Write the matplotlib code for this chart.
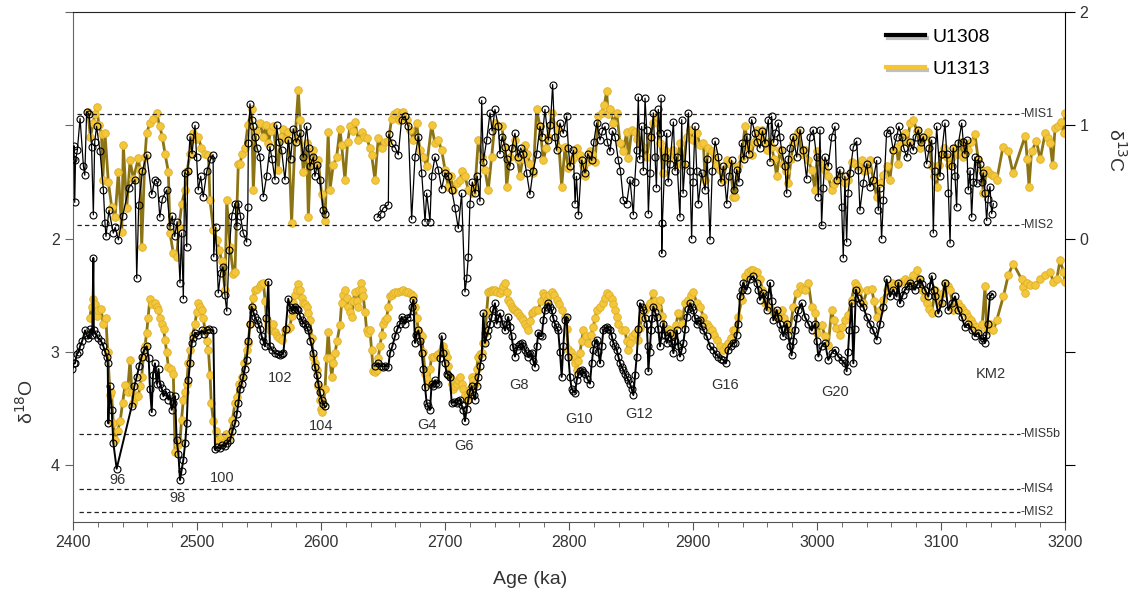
import numpy as np
import matplotlib.pyplot as plt
from matplotlib.lines import Line2D
import matplotlib.patheffects as pe

plt.rcParams['font.family'] = ['Liberation Sans', 'DejaVu Sans']

nan = np.nan

# (age ka, value)
u1308_d13c = [
    (2400.0, 0.70), (2400.8, 0.82), (2401.4, 0.32), (2402.0, 0.69), (2403.5, 0.78), (2405.7, 1.06),
    (2408.4, 0.64), (2409.5, 0.56), (2411.0, 1.12), (2413.0, 1.10), (2415.0, 0.81), (2416.4, 0.21),
    (2417.5, 0.85), (2419.0, 0.99), (2421.8, 0.77), (2424.5, 0.43), (2425.8, 0.14), (2426.6, 0.02),
    (2429.0, 0.25), (2432.5, 0.05), (2434.0, 0.10), (2436.6, -0.01), (2440.0, 0.20), (2445.0, 0.45),
    (2450.0, 0.52), (2451.4, -0.35), (2453.0, 0.30), (2456.0, 0.60), (2459.4, 0.74), (2463.5, 0.39),
    (2466.0, 0.52), (2468.0, 0.50), (2470.0, 0.19), (2472.0, 0.35), (2475.6, 0.43), (2478.2, 0.11),
    (2480.0, 0.20), (2482.0, 0.02), (2484.0, 0.15), (2486.3, -0.39), (2487.5, 0.05), (2489.0, -0.53),
    (2490.0, 0.58), (2491.7, -0.07), (2492.5, 0.60), (2494.4, 0.90), (2496.0, 0.75), (2498.4, 1.00),
    (2499.7, 0.72), (2501.0, 0.43), (2503.0, 0.55), (2505.0, 0.37), (2508.0, 0.60), (2511.0, 0.70),
    (2513.0, 0.74), (2513.5, -0.16), (2515.0, 0.10), (2517.2, -0.48), (2519.0, -0.30), (2521.0, -0.25),
    (2522.5, -0.50), (2524.0, -0.64), (2526.0, -0.10), (2528.0, 0.20), (2530.7, 0.31), (2532.0, 0.11),
    (2533.3, 0.31), (2535.0, 0.20), (2537.3, 0.05), (2540.0, -0.03), (2541.0, 0.28), (2541.4, 0.84),
    (2542.7, 1.19), (2544.0, 1.05), (2545.4, 0.99), (2546.7, 0.90), (2548.5, 0.80), (2550.8, 0.72),
    (2553.5, 0.37), (2556.1, 0.55), (2558.8, 0.81), (2560.5, 0.70), (2562.9, 0.52), (2564.2, 1.00),
    (2566.0, 0.85), (2568.2, 0.78), (2570.9, 0.52), (2573.6, 0.87), (2575.5, 0.70), (2577.6, 0.97),
    (2580.0, 0.85), (2583.0, 0.93), (2585.7, 0.72), (2588.4, 0.99), (2590.0, 0.80), (2591.1, 0.64),
    (2593.8, 0.72), (2595.1, 0.55), (2597.0, 0.65), (2599.1, 0.52), (2601.8, 0.25), (2603.2, 0.22),
    (2625.0, nan),
    (2645.5, 0.19), (2648.0, 0.22), (2650.2, 0.27), (2654.3, 0.30), (2654.8, 0.92), (2657.0, 0.84),
    (2660.0, 0.80), (2662.3, 0.74), (2665.0, 1.05), (2667.7, 1.08), (2670.4, 0.99), (2673.1, 0.17),
    (2675.8, 0.72), (2678.5, 0.90), (2681.2, 0.58), (2683.9, 0.15), (2685.2, 0.40), (2687.9, 0.15),
    (2689.2, 0.55), (2691.9, 0.72), (2694.6, 0.61), (2697.3, 0.44), (2700.0, 0.58), (2702.7, 0.55),
    (2705.4, 0.43), (2708.1, 0.27), (2710.7, 0.09), (2713.4, 0.40), (2716.1, -0.47), (2717.5, -0.35),
    (2718.8, -0.16), (2720.1, 0.31), (2722.0, 0.50), (2724.2, 0.40), (2726.0, 0.55), (2728.2, 0.33),
    (2729.6, 1.22), (2730.9, 0.68), (2733.6, 0.87), (2736.3, 1.11), (2738.0, 0.95), (2740.3, 1.14),
    (2743.0, 0.99), (2744.3, 0.75), (2746.0, 0.90), (2748.4, 0.81), (2750.0, 0.70), (2752.4, 0.64),
    (2754.0, 0.80), (2756.4, 0.93), (2759.1, 0.72), (2761.0, 0.80), (2763.2, 0.75), (2765.8, 0.58),
    (2768.5, 0.39), (2771.0, 0.60), (2773.9, 0.75), (2776.6, 0.99), (2778.5, 0.90), (2780.6, 1.14),
    (2783.3, 0.87), (2785.0, 1.00), (2786.8, 1.36), (2788.5, 0.90), (2790.0, 0.78), (2792.7, 1.02),
    (2795.4, 0.93), (2798.1, 1.08), (2799.5, 0.80), (2800.8, 0.64), (2803.5, 0.78), (2804.9, 0.31),
    (2806.0, 0.55), (2807.6, 0.21), (2810.2, 0.69), (2812.9, 0.58), (2815.0, 0.75), (2818.3, 0.69),
    (2820.0, 0.85), (2822.3, 1.02), (2825.0, 0.87), (2827.0, 0.95), (2829.0, 0.99), (2831.0, 0.85),
    (2833.1, 0.77), (2835.0, 0.95), (2837.1, 0.90), (2839.8, 0.69), (2841.5, 0.60), (2843.8, 0.34),
    (2846.5, 0.31), (2849.2, 0.52), (2851.9, 0.21), (2853.0, 0.50), (2854.6, 0.78), (2855.9, 1.25),
    (2857.0, 0.70), (2858.6, 0.99), (2860.0, 0.60), (2861.3, 1.24), (2862.7, 0.96), (2864.0, 0.22),
    (2865.3, 0.58), (2866.5, 0.90), (2868.0, 1.11), (2869.4, 0.72), (2870.5, 0.45), (2872.0, 1.14),
    (2873.4, 0.93), (2874.3, 1.24), (2874.8, -0.13), (2875.3, 0.14), (2877.4, 0.72), (2878.8, 0.93),
    (2880.0, 0.50), (2881.5, 0.66), (2884.2, 1.03), (2885.5, 0.60), (2886.9, 0.72), (2889.5, 0.19),
    (2890.9, 1.05), (2892.0, 0.40), (2893.6, 0.66), (2896.3, 1.11), (2897.5, 0.60), (2898.9, 0.00),
    (2900.0, 0.50), (2901.6, 0.99), (2903.0, 0.60), (2904.3, 0.31), (2907.0, 0.58), (2909.7, 0.43),
    (2911.5, 0.70), (2913.7, -0.01), (2915.5, 0.60), (2917.8, 0.86), (2920.5, 0.72), (2922.5, 0.50),
    (2924.5, 0.64), (2927.2, 0.31), (2929.0, 0.55), (2931.2, 0.69), (2933.0, 0.43), (2935.2, 0.61),
    (2937.0, 0.50), (2939.2, 0.84), (2941.0, 0.70), (2943.2, 0.90), (2945.0, 0.75), (2947.3, 1.05),
    (2950.0, 0.93), (2952.0, 0.85), (2954.0, 0.80), (2956.0, 0.95), (2958.0, 0.84), (2960.7, 1.05),
    (2962.1, 0.68), (2963.4, 1.08), (2965.0, 0.85), (2966.1, 0.93), (2968.8, 1.02), (2970.0, 0.90),
    (2971.5, 0.78), (2974.2, 0.64), (2975.5, 0.40), (2977.0, 0.70), (2978.2, 0.80), (2980.9, 0.90),
    (2983.6, 0.72), (2986.3, 0.96), (2989.0, 0.78), (2991.6, 0.53), (2994.3, 0.90), (2997.0, 0.96),
    (2999.7, 0.72), (3001.1, 0.37), (3002.4, 0.96), (3003.7, 0.12), (3005.0, 0.45), (3006.4, 0.72),
    (3009.1, 0.64), (3011.8, 0.90), (3014.5, 0.99), (3015.8, 0.52), (3018.5, 0.61), (3019.9, 0.28),
    (3021.2, -0.17), (3022.5, 0.55), (3023.9, -0.03), (3025.0, 0.40), (3026.6, 0.58), (3029.3, 0.81),
    (3032.0, 0.86), (3033.3, 0.61), (3034.6, 0.25), (3037.3, 0.49), (3040.0, 0.66), (3042.7, 0.46),
    (3045.4, 0.52), (3048.1, 0.69), (3049.4, 0.25), (3050.5, 0.45), (3052.1, 0.00), (3053.5, 0.34),
    (3056.1, 0.93), (3058.8, 0.96), (3061.5, 0.78), (3064.2, 0.90), (3066.0, 0.99), (3068.3, 0.90),
    (3070.0, 0.80), (3072.3, 0.72), (3075.0, 0.85), (3077.7, 0.78), (3079.5, 0.90), (3081.7, 0.96),
    (3083.5, 0.85), (3085.8, 0.90), (3088.4, 0.66), (3090.5, 0.80), (3092.5, 0.87), (3093.8, 0.05),
    (3095.0, 0.60), (3096.5, 0.99), (3099.2, 0.55), (3100.5, 0.75), (3103.2, 1.02), (3104.6, 0.75),
    (3106.0, 0.40), (3107.3, -0.04), (3108.6, 0.64), (3110.0, 0.80), (3111.3, 0.55), (3112.6, 0.28),
    (3114.0, 0.84), (3116.7, 1.02), (3118.0, 0.85), (3119.3, 0.75), (3120.7, 0.87), (3122.0, 0.43),
    (3123.5, 0.60), (3124.7, 0.19), (3126.0, 0.50), (3127.4, 0.72), (3128.8, 0.49), (3130.0, 0.70),
    (3131.4, 0.66), (3132.8, 0.50), (3134.1, 0.58), (3135.5, 0.40), (3136.8, 0.16), (3138.0, 0.35),
    (3139.5, 0.46), (3140.9, 0.22), (3142.2, 0.31),
]

u1313_d13c = [
    (2412.0, 1.12), (2414.0, 0.90), (2416.4, 1.02), (2417.5, 1.10), (2419.0, 1.16), (2421.0, 1.00),
    (2423.0, 0.92), (2424.0, 0.52), (2425.8, 0.93), (2428.5, 0.50), (2431.2, 0.28), (2433.9, 0.19),
    (2436.6, 0.59), (2439.3, 0.06), (2440.6, 0.83), (2443.3, 0.27), (2446.0, 0.69), (2448.7, 0.53),
    (2452.7, 0.71), (2454.0, 0.61), (2455.4, -0.07), (2458.0, 0.72), (2459.4, 0.93), (2462.0, 1.02),
    (2464.8, 1.06), (2467.5, 1.11), (2470.0, 0.99), (2472.0, 0.90), (2474.2, 0.75), (2476.9, 0.59),
    (2478.2, 0.05), (2480.9, -0.13), (2483.6, -0.16), (2485.5, 0.10), (2487.7, 0.31), (2490.3, 0.43),
    (2492.0, 0.60), (2494.4, 0.75), (2497.0, 0.93), (2499.0, 0.88), (2501.0, 0.90), (2503.5, 0.80),
    (2506.5, 0.75), (2509.2, 0.74), (2510.5, 0.34), (2513.2, 0.08), (2515.9, -0.01), (2518.0, -0.10),
    (2519.9, -0.20), (2522.6, -0.45), (2524.0, 0.34), (2526.6, -0.07), (2529.3, -0.31), (2530.6, -0.29),
    (2533.3, 0.66), (2534.6, 0.66), (2536.5, 0.75), (2538.7, 0.80), (2541.0, 1.00), (2544.0, 1.14),
    (2545.4, 0.43), (2547.5, 0.95), (2550.8, 1.02), (2553.5, 0.90), (2555.5, 1.00), (2557.5, 0.84),
    (2559.5, 0.95), (2561.5, 0.99), (2565.5, 0.61), (2567.5, 0.90), (2569.6, 0.97), (2571.5, 0.88),
    (2573.6, 0.94), (2576.3, 0.14), (2579.0, 0.87), (2581.7, 1.31), (2583.0, 1.05), (2585.7, 0.59),
    (2588.4, 0.84), (2589.8, 0.19), (2591.5, 0.70), (2593.8, 0.78), (2595.5, 0.65), (2597.8, 0.69),
    (2600.5, 0.39), (2603.2, 0.16), (2605.8, 0.94), (2607.2, 0.43), (2609.9, 0.65), (2612.6, 0.72),
    (2615.3, 0.97), (2616.6, 0.83), (2619.3, 0.52), (2621.5, 0.85), (2623.4, 0.99), (2625.5, 0.95),
    (2627.4, 1.03), (2630.1, 0.87), (2632.8, 0.94), (2634.5, 0.90), (2636.8, 0.89), (2639.5, 0.80),
    (2640.8, 0.74), (2643.5, 0.52), (2646.2, 0.89), (2648.9, 0.80), (2651.5, 0.85), (2654.3, 0.86),
    (2657.0, 1.06), (2659.0, 1.10), (2661.0, 1.12), (2663.0, 1.05), (2665.0, 1.11), (2666.4, 1.12),
    (2669.0, 1.05), (2671.7, 0.96), (2674.5, 0.87), (2677.1, 1.02), (2679.8, 0.78), (2682.5, 0.72),
    (2685.2, 0.64), (2689.2, 1.00), (2691.9, 0.84), (2694.6, 0.87), (2697.3, 0.78), (2700.0, 0.61),
    (2702.7, 0.46), (2704.5, 0.55), (2706.7, 0.43), (2709.4, 0.49), (2712.1, 0.52), (2714.0, 0.60),
    (2716.1, 0.55), (2718.8, 0.43), (2721.5, 0.40), (2724.2, 0.46), (2726.9, 0.87), (2729.6, 0.72),
    (2732.2, 0.61), (2734.9, 0.43), (2737.6, 0.72), (2740.3, 1.02), (2743.0, 0.99), (2745.7, 0.99),
    (2748.4, 0.81), (2749.7, 0.46), (2752.4, 0.72), (2756.4, 0.87), (2758.5, 0.70), (2760.5, 0.55),
    (2762.5, 0.70), (2764.5, 0.83), (2766.5, 0.75), (2768.5, 0.66), (2771.2, 0.58), (2773.9, 1.14),
    (2776.6, 0.99), (2779.3, 0.69), (2781.5, 0.80), (2783.3, 0.90), (2786.0, 1.11), (2788.0, 1.00),
    (2790.0, 0.96), (2792.0, 0.80), (2794.1, 0.46), (2796.8, 0.81), (2799.5, 0.62), (2802.2, 0.69),
    (2804.0, 0.72), (2806.2, 0.80), (2808.9, 0.74), (2811.0, 0.65), (2812.9, 0.55), (2814.8, 0.68),
    (2816.9, 0.77), (2818.8, 0.75), (2820.9, 0.68), (2823.7, 1.08), (2826.4, 1.11), (2828.5, 1.18),
    (2830.4, 1.30), (2831.5, 1.10), (2833.1, 1.14), (2835.8, 1.02), (2838.5, 1.11), (2841.2, 0.84),
    (2843.8, 0.77), (2846.5, 0.94), (2847.9, 0.71), (2850.6, 0.96), (2853.3, 0.94), (2855.0, 0.88),
    (2857.3, 0.84), (2860.0, 0.81), (2862.7, 0.72), (2865.3, 0.90), (2868.0, 1.02), (2870.7, 1.08),
    (2873.4, 0.84), (2876.1, 0.58), (2877.4, 0.78), (2879.5, 0.70), (2881.5, 0.72), (2884.2, 0.78),
    (2886.9, 0.66), (2889.5, 0.84), (2892.2, 0.65), (2894.9, 0.90), (2897.6, 0.96), (2900.3, 0.87),
    (2903.0, 0.93), (2905.7, 0.83), (2908.4, 0.84), (2909.7, 0.52), (2912.4, 0.80), (2915.1, 0.77),
    (2917.0, 0.70), (2919.1, 0.65), (2921.8, 0.61), (2924.5, 0.52), (2927.2, 0.69), (2929.9, 0.66),
    (2932.6, 0.37), (2933.8, 0.37), (2936.5, 0.64), (2939.2, 0.72), (2941.9, 0.99), (2944.6, 0.81),
    (2947.3, 0.74), (2949.0, 0.85), (2951.3, 0.96), (2953.0, 0.90), (2955.4, 0.96), (2957.5, 0.85),
    (2959.4, 0.78), (2961.5, 0.85), (2963.4, 0.81), (2965.5, 0.70), (2967.5, 0.55), (2970.1, 0.78),
    (2972.8, 0.66), (2975.0, 0.60), (2976.9, 0.49), (2979.0, 0.70), (2980.9, 0.84), (2983.0, 0.90),
    (2984.9, 0.94), (2987.6, 0.75), (2990.3, 0.78), (2993.0, 0.69), (2995.7, 0.61), (2998.4, 0.43),
    (3000.2, 0.77), (3002.4, 0.68), (3004.5, 0.65), (3006.4, 0.61), (3009.1, 0.55), (3011.8, 0.43),
    (3013.5, 0.48), (3015.3, 0.52), (3018.5, 0.56), (3020.5, 0.52), (3022.5, 0.49), (3025.2, 0.52),
    (3027.9, 0.68), (3030.6, 0.66), (3033.3, 0.64), (3036.0, 0.69), (3038.0, 0.60), (3040.0, 0.61),
    (3042.7, 0.69), (3045.4, 0.52), (3048.1, 0.37), (3050.8, 0.49), (3053.5, 0.56), (3056.1, 0.64),
    (3058.8, 0.52), (3061.5, 0.78), (3064.2, 0.81), (3065.6, 0.66), (3068.0, 0.85), (3071.0, 0.93),
    (3073.0, 0.85), (3075.0, 1.02), (3077.7, 1.05), (3080.5, 0.95), (3083.1, 0.80), (3086.0, 0.90),
    (3089.8, 0.94), (3092.5, 0.64), (3094.5, 0.55), (3096.5, 0.46), (3098.5, 0.65), (3100.5, 0.75),
    (3102.5, 0.80), (3104.6, 0.72), (3106.5, 0.65), (3108.6, 0.72), (3111.0, 0.80), (3114.0, 0.75),
    (3116.0, 0.85), (3118.0, 0.72), (3120.0, 0.80), (3122.0, 0.78), (3124.5, 0.85), (3127.4, 0.92),
    (3130.1, 0.69), (3132.8, 0.61), (3134.1, 0.40), (3136.8, 0.61), (3139.0, 0.58), (3140.9, 0.56),
    (3143.0, 0.55), (3145.0, 0.52), (3150.0, 0.81), (3154.3, 0.77), (3158.0, 0.58), (3168.0, 0.91),
    (3169.5, 0.70), (3171.0, 0.46), (3173.0, 0.77), (3177.0, 0.86), (3180.0, 0.70), (3184.0, 0.93),
    (3186.5, 0.89), (3188.0, 0.84), (3190.0, 0.65), (3192.0, 0.98), (3194.6, 0.99), (3197.0, 1.03),
    (3199.0, 0.93), (3200.0, 1.11),
]

u1308_d18o = [
    (2399.5, 3.15), (2400.5, 3.10), (2401.6, 3.10), (2403.0, 3.02), (2404.5, 3.00), (2405.7, 2.95),
    (2407.5, 2.90), (2409.7, 2.81), (2411.0, 2.85), (2412.4, 2.88), (2414.0, 2.80), (2415.5, 2.85),
    (2416.4, 2.17), (2416.8, 2.81), (2418.5, 2.84), (2420.4, 2.88), (2422.5, 2.90), (2424.5, 2.95),
    (2426.0, 3.00), (2427.2, 3.04), (2428.0, 3.10), (2428.5, 3.63), (2429.5, 3.30), (2431.2, 3.51),
    (2432.5, 3.80), (2435.2, 4.03), (2447.3, 3.48), (2449.5, 3.30), (2451.4, 3.22), (2453.5, 3.12),
    (2455.4, 3.04), (2457.5, 2.98), (2459.4, 2.95), (2461.0, 3.05), (2462.1, 3.33), (2463.5, 3.53),
    (2464.5, 3.20), (2466.1, 3.10), (2467.5, 3.28), (2469.0, 3.15), (2470.0, 3.28), (2471.5, 3.32),
    (2472.9, 3.39), (2475.0, 3.35), (2476.9, 3.42), (2478.0, 3.38), (2479.6, 3.51), (2481.0, 3.45),
    (2482.3, 3.39), (2483.6, 3.78), (2485.0, 3.90), (2486.3, 4.13), (2487.5, 4.05), (2489.0, 3.95),
    (2490.5, 3.80), (2491.7, 3.63), (2493.0, 3.25), (2494.4, 3.10), (2495.7, 2.92), (2497.0, 2.88),
    (2498.4, 2.83), (2501.0, 2.85), (2503.8, 2.81), (2506.0, 2.84), (2507.8, 2.81), (2510.0, 2.80),
    (2513.2, 2.81), (2514.5, 3.86), (2516.5, 3.84), (2518.6, 3.85), (2520.5, 3.82), (2522.6, 3.83),
    (2524.5, 3.80), (2526.6, 3.78), (2528.5, 3.70), (2530.7, 3.63), (2532.0, 3.55), (2533.4, 3.45),
    (2534.6, 3.33), (2536.0, 3.28), (2537.3, 3.22), (2538.5, 3.15), (2540.0, 3.07), (2541.5, 2.90),
    (2542.7, 2.75), (2544.0, 2.60), (2545.5, 2.65), (2546.7, 2.69), (2548.0, 2.72), (2549.4, 2.75),
    (2551.0, 2.80), (2552.1, 2.86), (2553.5, 2.90), (2554.8, 2.95), (2556.0, 2.70), (2557.5, 2.38),
    (2558.8, 2.95), (2560.5, 2.98), (2562.9, 3.01), (2565.0, 3.02), (2566.9, 3.03), (2568.5, 3.02),
    (2569.6, 3.01), (2571.5, 2.80), (2573.6, 2.53), (2575.0, 2.60), (2576.3, 2.63), (2578.0, 2.62),
    (2579.0, 2.60), (2580.5, 2.62), (2581.7, 2.63), (2583.0, 2.68), (2584.4, 2.72), (2585.5, 2.74),
    (2587.1, 2.75), (2588.5, 2.78), (2589.7, 2.81), (2591.5, 2.90), (2593.8, 3.01), (2595.1, 3.13),
    (2596.5, 3.20), (2597.8, 3.28), (2599.0, 3.35), (2600.5, 3.42), (2602.0, 3.46), (2603.2, 3.48),
    (2625.0, nan),
    (2643.5, 3.12), (2646.2, 3.10), (2648.0, 3.12), (2650.2, 3.13), (2652.0, 3.12), (2654.3, 3.13),
    (2655.6, 3.01), (2657.5, 2.95), (2659.7, 2.86), (2661.5, 2.80), (2663.7, 2.75), (2665.0, 2.69),
    (2666.5, 2.72), (2667.7, 2.75), (2669.5, 2.70), (2671.8, 2.69), (2673.0, 2.60), (2674.5, 2.54),
    (2675.8, 2.92), (2677.0, 2.85), (2678.5, 2.81), (2680.0, 2.90), (2681.2, 3.01), (2682.5, 3.15),
    (2683.9, 3.31), (2685.2, 3.45), (2686.5, 3.48), (2687.9, 3.51), (2689.2, 3.28), (2690.5, 3.30),
    (2691.9, 3.25), (2693.0, 3.27), (2694.6, 3.28), (2696.0, 3.05), (2697.3, 2.86), (2698.6, 3.01),
    (2700.0, 3.10), (2701.3, 3.19), (2702.7, 3.20), (2704.0, 3.22), (2705.4, 3.45), (2707.0, 3.44),
    (2709.4, 3.45), (2710.7, 3.43), (2712.1, 3.42), (2713.5, 3.47), (2714.8, 3.51), (2716.1, 3.61),
    (2717.5, 3.50), (2718.8, 3.42), (2720.0, 3.35), (2721.5, 3.30), (2723.0, 3.38), (2724.2, 3.42),
    (2725.5, 3.30), (2726.9, 3.22), (2728.2, 3.12), (2729.6, 3.04), (2730.9, 2.66), (2732.2, 2.92),
    (2733.5, 2.86), (2734.9, 2.81), (2736.3, 2.75), (2737.6, 2.69), (2739.0, 2.62), (2740.3, 2.57),
    (2741.6, 2.75), (2743.0, 2.70), (2744.3, 2.66), (2746.5, 2.75), (2748.4, 2.81), (2749.7, 2.75),
    (2751.0, 2.69), (2752.4, 2.78), (2753.7, 2.86), (2755.0, 2.96), (2756.4, 3.04), (2757.8, 2.98),
    (2759.1, 2.95), (2760.5, 2.93), (2761.8, 2.92), (2763.2, 2.95), (2764.5, 2.98), (2765.8, 3.01),
    (2767.2, 3.04), (2768.5, 3.02), (2769.9, 3.01), (2771.2, 3.08), (2772.5, 3.13), (2774.0, 2.95),
    (2775.3, 2.83), (2776.6, 2.85), (2778.0, 2.86), (2779.3, 2.72), (2780.6, 2.63), (2782.0, 2.60),
    (2783.3, 2.57), (2784.6, 2.60), (2786.0, 2.63), (2787.3, 2.70), (2788.6, 2.75), (2790.0, 2.78),
    (2791.3, 2.81), (2792.7, 3.00), (2794.1, 3.22), (2795.4, 2.95), (2796.8, 2.72), (2798.1, 2.69),
    (2799.5, 3.04), (2800.8, 3.22), (2802.2, 3.33), (2803.5, 3.34), (2804.9, 3.36), (2806.2, 3.25),
    (2807.6, 3.19), (2809.0, 3.17), (2810.2, 3.16), (2811.6, 3.18), (2812.9, 3.19), (2814.9, 3.24),
    (2816.9, 3.28), (2818.3, 3.10), (2819.6, 2.98), (2821.0, 2.92), (2822.3, 2.89), (2823.7, 3.00),
    (2825.0, 3.10), (2826.4, 2.95), (2827.7, 2.81), (2829.0, 2.79), (2830.4, 2.78), (2831.8, 2.80),
    (2833.1, 2.81), (2834.5, 2.86), (2835.8, 2.92), (2837.1, 2.95), (2838.5, 2.98), (2839.8, 3.04),
    (2841.2, 3.10), (2842.5, 3.13), (2843.8, 3.16), (2845.2, 3.19), (2846.5, 3.22), (2847.9, 3.25),
    (2849.2, 3.28), (2850.6, 3.33), (2851.9, 3.38), (2853.3, 3.20), (2854.6, 3.04), (2856.0, 2.80),
    (2857.3, 2.57), (2858.6, 2.60), (2860.0, 2.63), (2861.3, 2.70), (2862.7, 2.75), (2863.5, 2.95),
    (2864.0, 3.17), (2865.0, 3.00), (2866.2, 2.81), (2867.0, 2.70), (2868.0, 2.60), (2869.4, 2.65),
    (2870.7, 2.69), (2872.0, 2.80), (2873.4, 2.95), (2874.7, 2.85), (2876.1, 2.75), (2877.4, 2.85),
    (2878.8, 2.92), (2880.1, 2.88), (2881.5, 2.83), (2882.9, 2.92), (2884.2, 3.01), (2885.5, 2.90),
    (2886.9, 2.81), (2888.2, 2.95), (2889.5, 3.04), (2890.9, 2.98), (2892.2, 2.92), (2893.6, 2.80),
    (2894.9, 2.69), (2896.3, 2.62), (2897.6, 2.57), (2899.0, 2.60), (2900.3, 2.63), (2901.6, 2.70),
    (2903.0, 2.75), (2904.3, 2.73), (2905.7, 2.72), (2907.0, 2.77), (2908.4, 2.81), (2911.0, 2.86),
    (2913.7, 2.95), (2916.4, 2.98), (2918.5, 3.02), (2920.5, 3.04), (2922.5, 3.06), (2924.5, 3.07),
    (2926.5, 3.10), (2928.5, 2.98), (2930.5, 2.95), (2932.6, 2.92), (2933.8, 2.92), (2935.2, 2.85),
    (2936.5, 2.75), (2937.9, 2.51), (2939.2, 2.45), (2940.5, 2.39), (2943.2, 2.45), (2945.9, 2.36),
    (2948.6, 2.33), (2951.3, 2.39), (2952.7, 2.45), (2954.0, 2.54), (2956.7, 2.48), (2959.4, 2.63),
    (2960.7, 2.50), (2962.1, 2.39), (2963.4, 2.55), (2964.8, 2.72), (2967.5, 2.63), (2968.8, 2.70),
    (2970.1, 2.75), (2971.5, 2.80), (2972.8, 2.86), (2974.2, 2.80), (2975.5, 2.75), (2976.9, 2.85),
    (2978.2, 2.95), (2979.5, 3.03), (2980.9, 2.90), (2982.2, 2.81), (2983.6, 2.70), (2984.9, 2.63),
    (2987.6, 2.57), (2990.3, 2.69), (2993.0, 2.75), (2995.7, 2.81), (2998.4, 2.75), (2999.7, 2.90),
    (3001.1, 3.04), (3003.7, 2.95), (3006.4, 2.92), (3009.1, 3.07), (3011.8, 3.01), (3014.5, 2.98),
    (3017.2, 3.04), (3019.9, 3.07), (3022.5, 3.10), (3023.9, 3.17), (3025.0, 3.00), (3026.1, 2.81),
    (3027.9, 2.57), (3029.3, 3.10), (3030.3, 2.80), (3031.4, 2.45), (3033.0, 2.52), (3034.6, 2.57),
    (3037.3, 2.60), (3040.0, 2.69), (3042.7, 2.75), (3045.4, 2.81), (3048.1, 2.89), (3050.8, 2.75),
    (3053.5, 2.60), (3056.1, 2.36), (3058.8, 2.51), (3061.5, 2.45), (3064.2, 2.51), (3065.6, 2.39),
    (3066.9, 2.57), (3069.0, 2.50), (3071.0, 2.45), (3073.0, 2.42), (3075.0, 2.39), (3077.0, 2.42),
    (3079.0, 2.45), (3081.0, 2.40), (3083.1, 2.36), (3085.0, 2.40), (3087.1, 2.45), (3089.8, 2.51),
    (3091.0, 2.42), (3092.5, 2.33), (3094.0, 2.45), (3095.2, 2.51), (3097.8, 2.66), (3100.5, 2.57),
    (3103.2, 2.39), (3105.9, 2.63), (3108.6, 2.57), (3111.3, 2.51), (3114.0, 2.63), (3116.7, 2.69),
    (3119.3, 2.78), (3122.0, 2.75), (3124.7, 2.81), (3127.4, 2.86), (3130.1, 2.83), (3132.8, 2.89),
    (3134.0, 2.88), (3135.5, 2.92), (3136.5, 2.85), (3137.6, 2.75), (3139.5, 2.51), (3141.4, 2.49),
]

u1313_d18o = [
    (2413.5, 2.70), (2415.0, 2.60), (2416.4, 2.53), (2418.0, 2.58), (2419.2, 2.68), (2420.4, 2.63),
    (2422.5, 2.62), (2424.5, 2.75), (2426.5, 2.70), (2428.0, 3.00), (2429.9, 3.38), (2431.0, 3.35),
    (2432.5, 3.63), (2433.9, 3.78), (2436.0, 3.70), (2438.0, 3.61), (2440.0, 3.45), (2442.0, 3.29),
    (2444.0, 3.35), (2446.0, 3.07), (2447.5, 3.35), (2448.7, 3.45), (2450.5, 3.40), (2452.7, 3.39),
    (2454.0, 3.30), (2455.4, 3.22), (2456.7, 3.04), (2458.0, 2.95), (2459.4, 2.83), (2460.5, 2.70),
    (2462.0, 2.53), (2464.0, 2.58), (2466.0, 2.57), (2467.5, 2.60), (2468.8, 2.63), (2470.0, 2.70),
    (2471.5, 2.75), (2473.0, 2.80), (2474.2, 2.89), (2475.5, 3.00), (2476.9, 3.13), (2479.0, 3.15),
    (2480.9, 3.19), (2482.3, 3.88), (2484.5, 3.82), (2486.3, 3.79), (2487.5, 3.60), (2489.0, 3.42),
    (2490.3, 3.35), (2491.7, 3.28), (2493.0, 3.10), (2494.4, 2.98), (2496.5, 2.85), (2498.4, 2.75),
    (2499.7, 2.65), (2501.0, 2.57), (2502.5, 2.60), (2503.8, 2.63), (2505.0, 2.70), (2506.5, 2.81),
    (2508.0, 2.90), (2509.2, 2.98), (2510.5, 3.20), (2511.5, 3.45), (2513.2, 3.61), (2515.0, 3.70),
    (2517.2, 3.78), (2519.0, 3.75), (2521.3, 3.80), (2523.0, 3.72), (2525.0, 3.78), (2526.6, 3.72),
    (2528.5, 3.60), (2530.7, 3.45), (2532.0, 3.40), (2534.0, 3.28), (2536.0, 3.22), (2538.0, 3.10),
    (2540.0, 2.98), (2541.4, 2.92), (2542.7, 2.75), (2544.0, 2.60), (2545.4, 2.52), (2546.7, 2.45),
    (2548.5, 2.44), (2550.8, 2.42), (2552.0, 2.40), (2553.5, 2.39), (2555.0, 2.55), (2556.1, 2.72),
    (2557.5, 2.76), (2558.8, 2.81), (2560.0, 2.78), (2561.5, 2.75), (2563.0, 2.82), (2564.2, 2.86),
    (2566.0, 2.88), (2568.2, 2.89), (2570.9, 2.81), (2573.0, 2.80), (2575.0, 2.78), (2576.3, 2.68),
    (2577.6, 2.57), (2579.0, 2.50), (2580.3, 2.45), (2581.5, 2.40), (2583.0, 2.45), (2584.4, 2.52),
    (2585.7, 2.57), (2587.0, 2.58), (2588.4, 2.60), (2589.8, 2.66), (2591.1, 2.72), (2592.5, 2.88),
    (2593.8, 3.04), (2595.1, 3.10), (2596.5, 3.16), (2597.8, 3.30), (2599.1, 3.42), (2600.3, 3.50),
    (2601.0, 3.53), (2602.0, 3.45), (2603.2, 3.33), (2604.5, 3.05), (2605.8, 2.82), (2607.2, 3.05),
    (2608.6, 3.22), (2610.0, 3.10), (2611.3, 3.01), (2613.0, 2.90), (2615.3, 2.76), (2616.6, 2.57),
    (2618.0, 2.50), (2619.3, 2.45), (2620.7, 2.52), (2622.0, 2.60), (2623.4, 2.65), (2624.7, 2.69),
    (2626.0, 2.55), (2627.4, 2.47), (2628.8, 2.55), (2630.1, 2.60), (2631.0, 2.45), (2632.2, 2.39),
    (2633.2, 2.45), (2634.1, 2.51), (2635.5, 2.65), (2636.8, 2.81), (2638.2, 2.83), (2639.5, 2.81),
    (2640.8, 2.98), (2642.2, 3.17), (2643.5, 3.18), (2644.9, 3.16), (2646.2, 3.05), (2647.5, 2.95),
    (2649.0, 2.85), (2650.2, 2.75), (2651.5, 2.72), (2652.9, 2.70), (2654.3, 2.60), (2655.6, 2.51),
    (2657.0, 2.50), (2658.3, 2.48), (2660.0, 2.47), (2662.3, 2.47), (2664.4, 2.46), (2666.4, 2.45),
    (2668.5, 2.47), (2670.4, 2.47), (2672.5, 2.49), (2674.5, 2.51), (2675.8, 2.60), (2677.2, 2.70),
    (2678.5, 2.81), (2679.8, 2.84), (2681.2, 2.86), (2682.5, 3.00), (2683.9, 3.19), (2685.2, 3.24),
    (2686.5, 3.28), (2687.9, 3.15), (2689.2, 3.04), (2691.2, 3.04), (2693.3, 3.03), (2694.6, 3.02),
    (2696.0, 3.01), (2697.3, 2.98), (2698.6, 2.95), (2700.0, 3.00), (2701.3, 3.04), (2702.7, 3.12),
    (2704.0, 3.22), (2705.4, 3.28), (2706.7, 3.33), (2708.0, 3.30), (2709.4, 3.28), (2710.7, 3.25),
    (2712.1, 3.22), (2713.4, 3.28), (2714.8, 3.33), (2716.1, 3.38), (2717.5, 3.42), (2718.8, 3.38),
    (2720.1, 3.33), (2721.5, 3.22), (2722.8, 3.25), (2724.2, 3.28), (2725.5, 3.15), (2726.9, 3.04),
    (2728.2, 3.02), (2729.6, 3.01), (2730.9, 2.92), (2732.2, 2.83), (2733.6, 2.65), (2734.9, 2.47),
    (2736.3, 2.46), (2737.6, 2.45), (2739.0, 2.46), (2740.3, 2.45), (2742.3, 2.47), (2744.3, 2.48),
    (2745.7, 2.45), (2747.0, 2.42), (2748.4, 2.39), (2749.7, 2.47), (2751.0, 2.54), (2752.4, 2.57),
    (2753.7, 2.60), (2755.0, 2.62), (2756.4, 2.63), (2757.8, 2.65), (2759.1, 2.66), (2760.5, 2.68),
    (2761.8, 2.70), (2763.2, 2.72), (2764.5, 2.75), (2765.8, 2.78), (2767.2, 2.81), (2768.5, 2.73),
    (2769.9, 2.66), (2771.2, 2.65), (2772.5, 2.63), (2775.3, 2.63), (2777.3, 2.55), (2779.3, 2.48),
    (2780.6, 2.51), (2782.0, 2.54), (2784.0, 2.50), (2786.0, 2.47), (2788.0, 2.50), (2790.0, 2.54),
    (2792.0, 2.58), (2794.1, 2.63), (2796.8, 2.69), (2798.0, 2.80), (2799.5, 2.97), (2801.5, 3.00),
    (2803.5, 3.04), (2805.0, 3.10), (2806.2, 3.16), (2807.5, 3.08), (2808.9, 3.01), (2810.2, 2.90),
    (2811.6, 2.81), (2813.6, 2.86), (2815.6, 2.92), (2817.6, 2.85), (2819.6, 2.78), (2821.0, 2.70),
    (2822.3, 2.63), (2825.0, 2.60), (2827.7, 2.57), (2829.0, 2.52), (2830.4, 2.48), (2832.4, 2.50),
    (2834.4, 2.53), (2835.8, 2.58), (2837.1, 2.63), (2838.5, 2.69), (2839.8, 2.75), (2842.5, 2.81),
    (2845.2, 2.81), (2846.5, 2.90), (2847.9, 2.98), (2849.2, 2.92), (2850.6, 2.86), (2853.3, 2.83),
    (2855.9, 2.89), (2857.3, 2.79), (2858.6, 2.69), (2861.3, 2.63), (2863.3, 2.60), (2865.3, 2.57),
    (2868.0, 2.48), (2869.4, 2.55), (2870.7, 2.60), (2873.4, 2.54), (2875.4, 2.68), (2877.4, 2.81),
    (2879.5, 2.80), (2881.5, 2.81), (2884.2, 2.86), (2886.2, 2.76), (2888.2, 2.66), (2890.9, 2.75),
    (2893.6, 2.57), (2896.3, 2.54), (2898.3, 2.50), (2900.3, 2.47), (2903.0, 2.57), (2905.7, 2.60),
    (2908.4, 2.69), (2911.0, 2.75), (2913.0, 2.78), (2915.1, 2.81), (2917.1, 2.85), (2919.1, 2.89),
    (2921.8, 2.95), (2924.5, 2.98), (2926.5, 2.95), (2928.5, 2.92), (2930.5, 2.88), (2932.6, 2.81),
    (2933.8, 2.81), (2936.5, 2.69), (2939.2, 2.54), (2941.9, 2.33), (2944.6, 2.29), (2946.5, 2.28),
    (2948.6, 2.28), (2951.3, 2.29), (2954.0, 2.36), (2956.0, 2.45), (2958.0, 2.57), (2960.7, 2.60),
    (2963.4, 2.63), (2965.5, 2.66), (2967.5, 2.69), (2969.5, 2.66), (2971.5, 2.63), (2973.5, 2.70),
    (2975.5, 2.75), (2978.2, 2.81), (2980.9, 2.60), (2983.6, 2.48), (2986.3, 2.42), (2988.3, 2.44),
    (2990.3, 2.45), (2993.0, 2.39), (2995.7, 2.60), (2998.4, 2.66), (3000.2, 2.83), (3003.7, 2.76),
    (3006.4, 2.86), (3009.1, 2.94), (3011.8, 2.63), (3013.5, 2.72), (3015.3, 2.79), (3018.5, 2.85),
    (3020.5, 2.78), (3022.5, 2.72), (3025.2, 2.67), (3027.9, 2.54), (3030.6, 2.39), (3032.4, 2.42),
    (3034.1, 2.45), (3037.3, 2.57), (3040.5, 2.45), (3044.0, 2.44), (3046.0, 2.55), (3048.1, 2.69),
    (3050.8, 2.63), (3053.5, 2.54), (3056.1, 2.45), (3058.0, 2.42), (3060.2, 2.39), (3063.0, 2.41),
    (3065.6, 2.40), (3068.0, 2.38), (3071.0, 2.36), (3073.0, 2.37), (3075.0, 2.38), (3077.5, 2.32),
    (3080.4, 2.28), (3082.5, 2.36), (3084.4, 2.45), (3086.5, 2.52), (3088.4, 2.57), (3090.5, 2.62),
    (3092.5, 2.66), (3095.2, 2.45), (3097.5, 2.52), (3099.2, 2.57), (3101.5, 2.48), (3103.2, 2.39),
    (3105.5, 2.42), (3107.3, 2.45), (3110.0, 2.63), (3112.0, 2.60), (3114.0, 2.57), (3116.0, 2.60),
    (3118.0, 2.63), (3120.0, 2.66), (3122.0, 2.69), (3124.0, 2.72), (3126.1, 2.75), (3128.0, 2.78),
    (3130.1, 2.81), (3133.3, 2.75), (3135.5, 2.42), (3136.8, 2.81), (3139.5, 2.75), (3142.2, 2.81),
    (3144.9, 2.72), (3150.3, 2.51), (3154.3, 2.32), (3158.3, 2.22), (3165.1, 2.36), (3166.5, 2.43),
    (3167.7, 2.48), (3169.1, 2.39), (3171.8, 2.41), (3175.8, 2.41), (3179.8, 2.36), (3183.9, 2.32),
    (3187.9, 2.29), (3190.6, 2.38), (3193.3, 2.36), (3196.0, 2.19), (3198.7, 2.29), (3200.0, 2.38),
]

# glacial stage labels (age, d18O position)
event_names = ['96', '98', '100', '102', '104', 'G4', 'G6', 'G8', 'G10', 'G12', 'G16', 'G20', 'KM2']
event_age = [2435.5, 2484, 2520, 2567, 2600, 2685.5, 2715, 2760, 2808, 2856.5, 2926, 3015, 3140]
event_pos = [4.13, 4.29, 4.11, 3.23, 3.65, 3.64, 3.83, 3.29, 3.59, 3.55, 3.29, 3.35, 3.19]

# reference levels
mis_c_names = ['MIS1', 'MIS2']
mis_c_vals = [1.10, 0.12]
mis_o_names = ['MIS5b', 'MIS4', 'MIS2']
mis_o_vals = [3.72, 4.21, 4.41]

gold_line = '#8C7414'
gold_face = '#F4C63A'
gold_edge = '#DDB02A'
txt = '#333333'

def split(series):
    arr = np.array(series, dtype=float)
    return arr[:, 0], arr[:, 1]

fig = plt.figure(figsize=(11.32, 5.91), dpi=100)
ax = fig.add_axes([73 / 1132, 1 - 522 / 591, 992 / 1132, 510 / 591])
ax2 = ax.twinx()

# d18O (left axis, inverted)
a, v = split(u1313_d18o)
ax.plot(a, v, color=gold_line, lw=2.0, marker='o', ms=5.5, mfc=gold_face, mec=gold_edge, mew=0.6, zorder=2)
a, v = split(u1308_d18o)
ax.plot(a, v, color='black', lw=1.4, marker='o', ms=5, mfc='none', mec='black', mew=0.8, zorder=3)

# d13C (right axis)
a, v = split(u1313_d13c)
ax2.plot(a, v, color=gold_line, lw=2.0, marker='o', ms=5.5, mfc=gold_face, mec=gold_edge, mew=0.6, zorder=2)
a, v = split(u1308_d13c)
ax2.plot(a, v, color='black', lw=0.9, marker='o', ms=5, mfc='none', mec='black', mew=0.8, zorder=3)

dash = (0, (3.5, 2.5))
ax2.hlines(mis_c_vals, 2403, 3164, colors='#222222', linestyles=dash, lw=0.9)
for n, y in zip(mis_c_names, mis_c_vals):
    ax2.text(3164.5, y, '-' + n, fontsize=9, color=txt, va='center', ha='left')
ax.hlines(mis_o_vals, 2405, 3164, colors='#222222', linestyles=dash, lw=0.9)
for n, y in zip(mis_o_names, mis_o_vals):
    ax.text(3164.5, y, '-' + n, fontsize=9, color=txt, va='center', ha='left')

for n, x, y in zip(event_names, event_age, event_pos):
    ax.text(x, y, n, fontsize=10.5, color=txt, ha='center', va='center')

ax.set_xlim(2400, 3200)
ax.set_xticks(np.arange(2400, 3201, 100))
ax.set_xticks(np.arange(2400, 3201, 20), minor=True)
ax.set_ylim(4.5, 0)
ax.set_yticks([0, 1, 2, 3, 4])
ax.set_yticklabels(['', '', '2', '3', '4'])
ax2.set_ylim(-2.5, 2)
ax2.set_yticks([-2, -1, 0, 1, 2])
ax2.set_yticklabels(['', '', '0', '1', '2'])

ax.tick_params(axis='x', which='major', direction='out', length=6, labelsize=11.5, labelcolor=txt, color='#555555')
ax.tick_params(axis='x', which='minor', direction='out', length=3.5, color='#555555')
ax.tick_params(axis='y', direction='out', length=6, labelsize=11.5, labelcolor=txt, color='#666666')
ax2.tick_params(axis='y', direction='out', length=7, labelsize=11.5, labelcolor=txt, color='black')

ax.spines['left'].set_color('#666666')
ax.spines['bottom'].set_color('#555555')
ax.spines['top'].set_color('#222222')
ax.spines['right'].set_visible(False)
for s in ['left', 'top', 'bottom']:
    ax2.spines[s].set_visible(False)
ax2.spines['right'].set_color('black')

ax.set_xlabel('Age (ka)', fontsize=14, color=txt)
ax.xaxis.set_label_coords(0.461, -0.112)
ax.xaxis.label.set_va('center')
ax.set_ylabel('δ$^{18}$O', fontsize=14, color=txt)
ax.yaxis.set_label_coords(-0.048, 0.237)
ax.yaxis.label.set_va('center')
ax2.set_ylabel('δ$^{13}$C', fontsize=14, color=txt, rotation=-90)
ax2.yaxis.set_label_coords(1.052, 0.73)
ax2.yaxis.label.set_va('center')

shadow = [pe.SimpleLineShadow(offset=(1.5, -2.5), shadow_color='gray', alpha=0.5), pe.Normal()]
handles = [Line2D([], [], color='black', lw=3, path_effects=shadow),
           Line2D([], [], color='#F7C531', lw=3, path_effects=shadow)]
ax2.legend(handles, ['U1308', 'U1313'], loc='upper left', bbox_to_anchor=(886 / 1132, 1 - 28 / 591),
           bbox_transform=fig.transFigure, frameon=False, fontsize=14, handlelength=2.0,
           handletextpad=0.4, labelspacing=0.75, borderpad=0, borderaxespad=0)

fig.savefig('out.png', dpi=100)
